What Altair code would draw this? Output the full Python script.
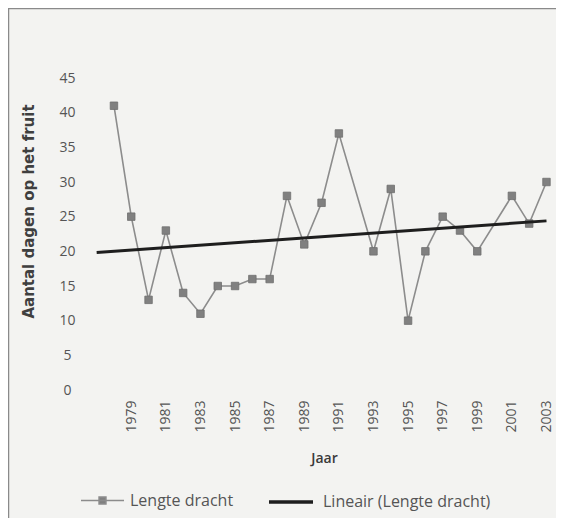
import altair as alt
import pandas as pd

years = [1978, 1979, 1980, 1981, 1982, 1983, 1984, 1985, 1986, 1987, 1988, 1989,
         1990, 1991, 1993, 1994, 1995, 1996, 1997, 1998, 1999, 2001, 2002, 2003]
values = [41, 25, 13, 23, 14, 11, 15, 15, 16, 16, 28, 21,
          27, 37, 20, 29, 10, 20, 25, 23, 20, 28, 24, 30]
x_tick_years = [1979, 1981, 1983, 1985, 1987, 1989, 1991, 1993, 1995, 1997, 1999, 2001, 2003]
y_ticks = [0, 5, 10, 15, 20, 25, 30, 35, 40, 45]
series_name = "Lengte dracht"
trend_name = "Lineair (Lengte dracht)"
trend_extent = [1977, 2003]

df = pd.DataFrame({"Jaar": years, "Dagen": values, "serie": series_name})

W, H = 468, 312
FONT = "Open Sans"

x_enc = alt.X(
    "Jaar:Q",
    scale=alt.Scale(domain=[1976.5, 2003.55], nice=False, zero=False),
    axis=alt.Axis(
        values=x_tick_years, format="d", labelAngle=270, labelAlign="right",
        labelBaseline="middle", labelPadding=10, labelFontSize=14, labelColor="#555555",
        labelFont=FONT, domain=False, ticks=False, tickSize=0, grid=False,
        title="Jaar", titleFont=FONT, titleFontSize=14, titleFontWeight=600,
        titleColor="#3a3a3a", titleX=236, titleY=72, titleBaseline="alphabetic",
        labelOverlap=False,
    ),
)
y_enc = alt.Y(
    "Dagen:Q",
    scale=alt.Scale(domain=[0, 45], nice=False),
    axis=alt.Axis(
        values=y_ticks, labelAlign="center", labelBaseline="middle", labelPadding=21,
        labelFontSize=14, labelColor="#555555", labelFont=FONT, domain=False,
        ticks=False, tickSize=0, grid=False,
        title="Aantal dagen op het fruit", titleFont="DejaVu Sans", titleFontSize=15,
        titleFontWeight="bold", titleColor="#3f3f3f", titleAngle=270,
        titleX=-60, titleY=133, titleAlign="center", titleBaseline="middle",
    ),
)

base = alt.Chart(df)

line = base.mark_line(color="#8c8c8c", strokeWidth=1.6).encode(x=x_enc, y=y_enc)

points = base.mark_point(filled=True, shape="square", size=56, opacity=1,
                         stroke="#6e6e6e", strokeWidth=0.8).encode(
    x=x_enc, y=y_enc,
    color=alt.Color(
        "serie:N",
        scale=alt.Scale(domain=[series_name], range=["#808080"]),
        legend=alt.Legend(
            title=None, orient="none", legendX=-8, legendY=400,
            symbolType="M-1,0H1M-0.16,-0.16H0.16V0.16H-0.16Z", symbolSize=1849,
            symbolStrokeColor="#8c8c8c", symbolStrokeWidth=1.5,
            labelFont=FONT, labelFontSize=16, labelColor="#555555", labelOffset=5,
            labelLimit=300,
        ),
    ),
)

trend = base.transform_regression(
    "Jaar", "Dagen", extent=trend_extent
).transform_calculate(
    serie=f"'{trend_name}'"
).mark_line(strokeWidth=3, clip=False).encode(
    x=x_enc, y=y_enc,
    color=alt.Color(
        "serie:N",
        scale=alt.Scale(domain=[trend_name], range=["#1e1e1e"]),
        legend=alt.Legend(
            title=None, orient="none", legendX=179, legendY=400,
            symbolType="stroke", symbolSize=1936, symbolStrokeWidth=3.5,
            labelFont=FONT, labelFontSize=16, labelColor="#555555", labelOffset=8,
            labelLimit=300,
        ),
    ),
)

frame_df = pd.DataFrame({"k": [0]})
frame_top = alt.Chart(frame_df).mark_rule(color="#8a8a8a", strokeWidth=1.5, clip=False).encode(
    x=alt.value(-80), x2=alt.value(W + 10), y=alt.value(-69.5)
)
frame_left = alt.Chart(frame_df).mark_rule(color="#8a8a8a", strokeWidth=1.5, clip=False).encode(
    x=alt.value(-79.5), y=alt.value(-70), y2=alt.value(H + 140)
)

chart = alt.layer(frame_top, frame_left, line, points, trend).resolve_scale(
    color="independent"
).properties(
    width=W, height=H,
    autosize=alt.AutoSizeParams(type="none"),
    padding={"left": 80, "top": 70, "right": 0, "bottom": 128},
    background="#f3f3f1",
).configure_view(stroke=None)

chart.save("out.html", embed_options={"renderer": "svg", "actions": False})
